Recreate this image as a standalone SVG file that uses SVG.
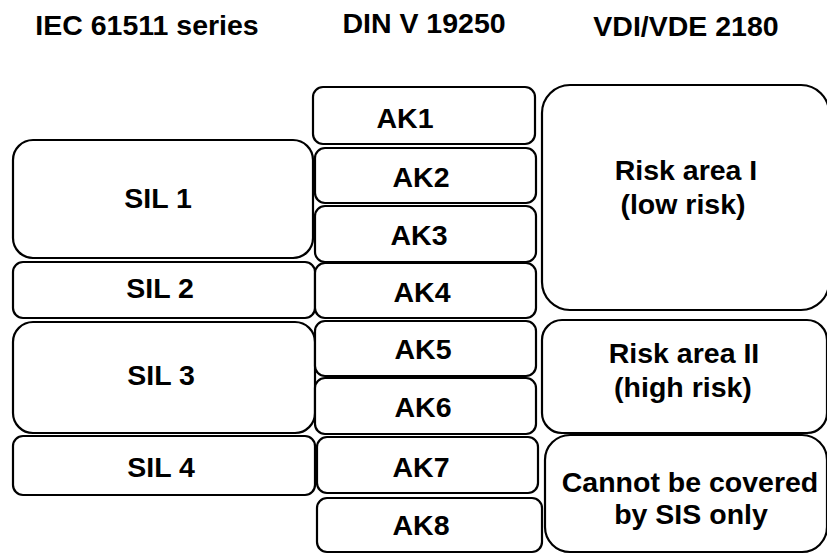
<svg xmlns="http://www.w3.org/2000/svg" width="827" height="555" viewBox="0 0 827 555">
<style>
  .box { fill: #ffffff; stroke: #000000; stroke-width: 2.2; }
  .t { font-family: "Liberation Sans", Arial, sans-serif; font-weight: bold; font-size: 28.5px; fill: #000000; text-anchor: middle; }
</style>
<rect width="827" height="555" fill="#ffffff"/>
<g id="headers">
  <text class="t" x="147" y="35">IEC 61511 series</text>
  <text class="t" x="424" y="33">DIN V 19250</text>
  <text class="t" x="686" y="36">VDI/VDE 2180</text>
</g>
<g id="sil1"><rect class="box" x="13" y="140" width="300" height="118" rx="20"/><text class="t" x="158" y="208">SIL 1</text></g>
<g id="sil2"><rect class="box" x="13" y="262" width="302" height="56" rx="10"/><text class="t" x="160" y="298">SIL 2</text></g>
<g id="sil3"><rect class="box" x="13" y="322" width="302" height="111" rx="20"/><text class="t" x="161" y="385">SIL 3</text></g>
<g id="sil4"><rect class="box" x="13" y="436" width="302" height="59" rx="10"/><text class="t" x="161" y="477">SIL 4</text></g>
<g id="ak1"><rect class="box" x="313" y="87" width="222" height="57" rx="10"/><text class="t" x="405" y="128">AK1</text></g>
<g id="ak2"><rect class="box" x="315" y="148" width="221" height="55" rx="10"/><text class="t" x="421" y="187">AK2</text></g>
<g id="ak3"><rect class="box" x="315" y="206" width="221" height="56" rx="10"/><text class="t" x="419" y="245">AK3</text></g>
<g id="ak4"><rect class="box" x="315" y="263" width="221" height="55" rx="10"/><text class="t" x="422" y="302">AK4</text></g>
<g id="ak5"><rect class="box" x="315" y="321" width="221" height="55" rx="10"/><text class="t" x="423" y="359">AK5</text></g>
<g id="ak6"><rect class="box" x="315" y="378" width="221" height="56" rx="10"/><text class="t" x="423" y="417">AK6</text></g>
<g id="ak7"><rect class="box" x="317" y="437" width="221" height="56" rx="10"/><text class="t" x="421" y="477">AK7</text></g>
<g id="ak8"><rect class="box" x="317" y="498" width="225" height="54" rx="10"/><text class="t" x="421" y="535">AK8</text></g>
<g id="risk1"><rect class="box" x="542" y="85" width="287" height="225" rx="28"/><text class="t" x="686" y="180">Risk area I</text><text class="t" x="683" y="214">(low risk)</text></g>
<g id="risk2"><rect class="box" x="542" y="320" width="285" height="113" rx="20"/><text class="t" x="684" y="363">Risk area II</text><text class="t" x="683" y="397">(high risk)</text></g>
<g id="notsis"><rect class="box" x="545" y="435" width="282" height="117" rx="25"/><text class="t" x="690" y="492">Cannot be covered</text><text class="t" x="691" y="524">by SIS only</text></g>
<g id="connectors"></g>
</svg>
